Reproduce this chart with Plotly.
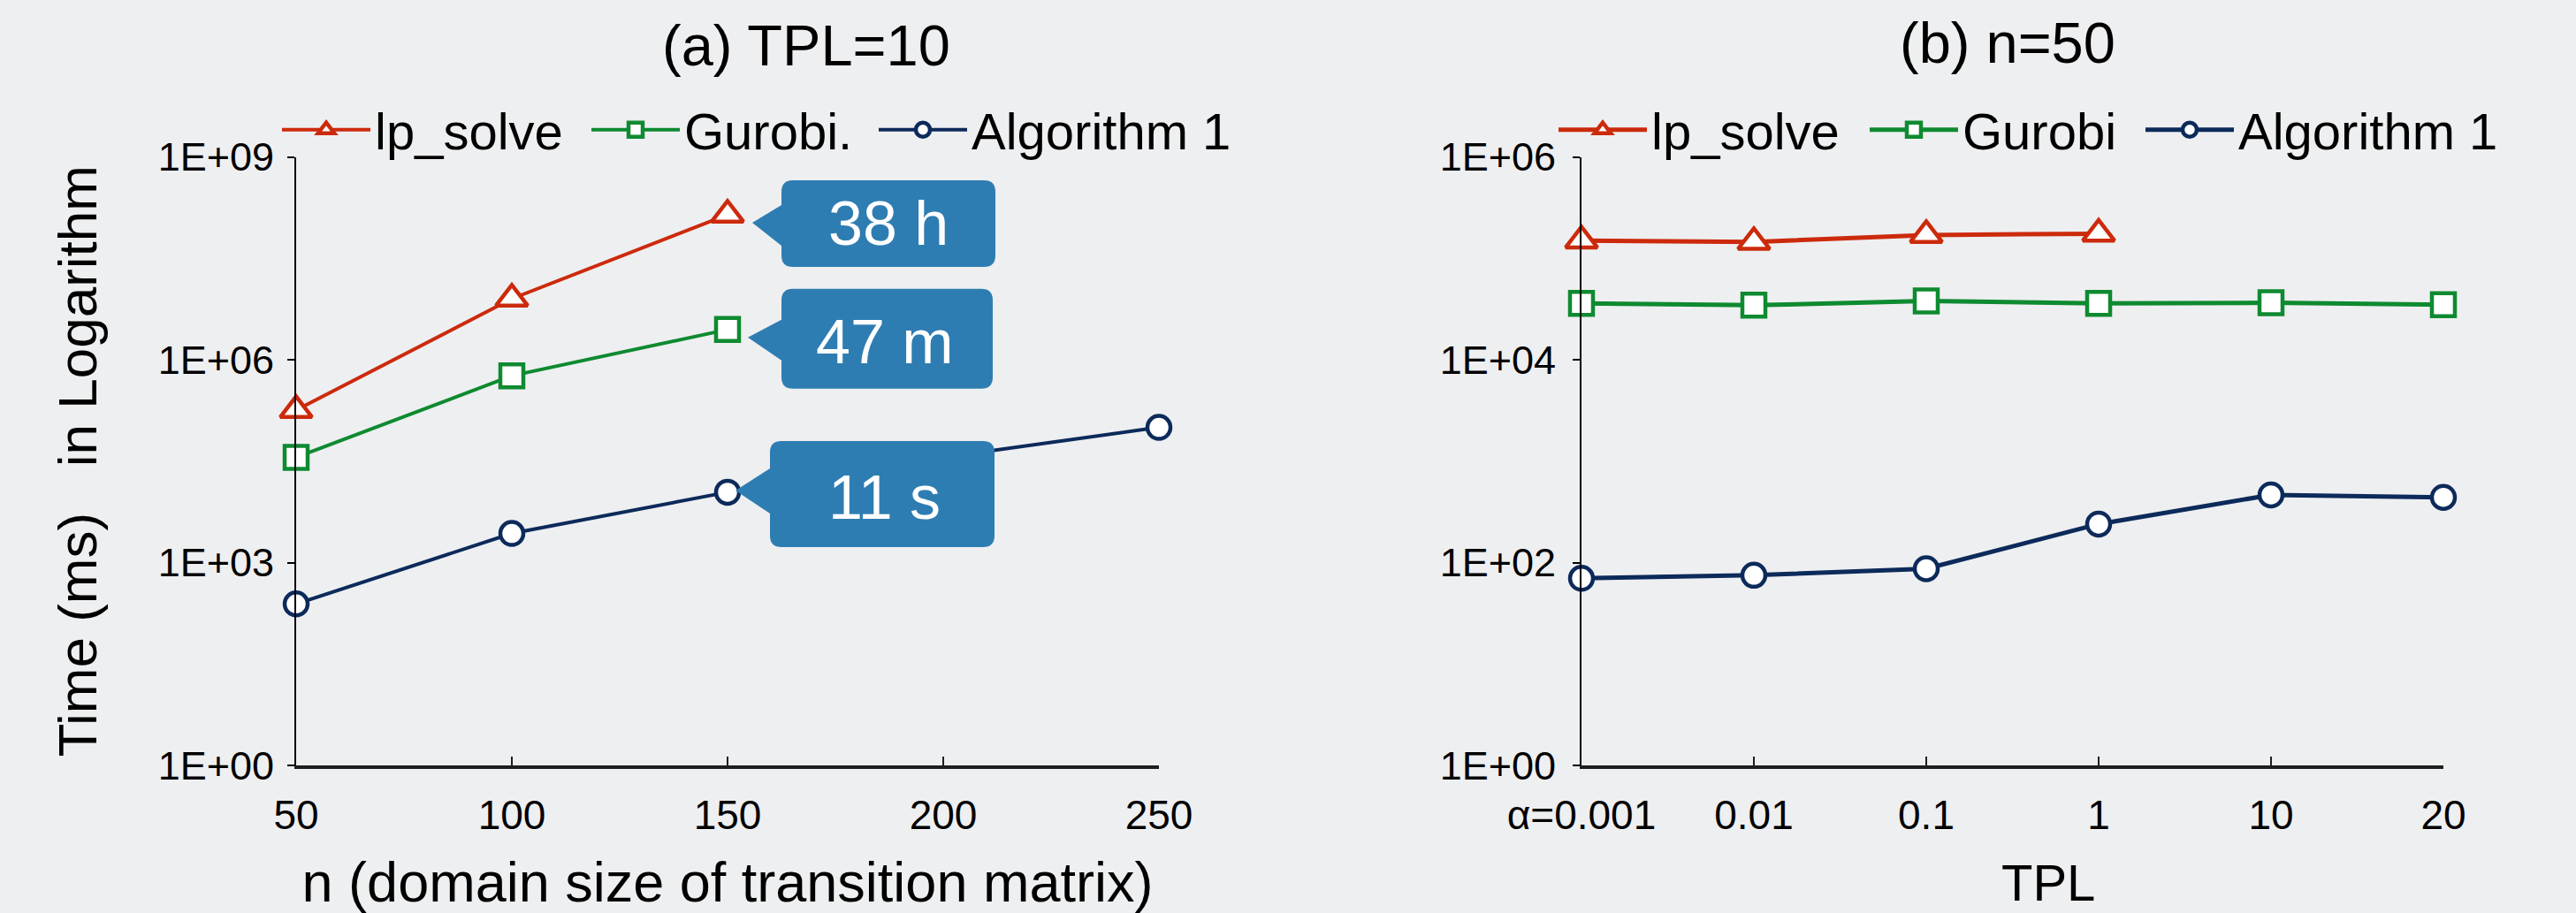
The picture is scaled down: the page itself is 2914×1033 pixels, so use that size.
import math
import plotly.graph_objects as go

# ---------------- data ----------------
n_vals = [50, 100, 150, 200, 250]
lp_a = [1.8e5, 8.0e6, 1.4e8]
gur_a = [3.6e4, 5.8e5, 2.8e6]
alg_a = [2.45e2, 2.7e3, 1.1e4, 3.6e4, 1.0e5]

tpl_cats = ["α=0.001", "0.01", "0.1", "1", "10", "20"]
lp_b = [1.5e5, 1.45e5, 1.7e5, 1.75e5]
gur_b = [3.6e4, 3.45e4, 3.8e4, 3.6e4, 3.65e4, 3.5e4]
alg_b = [70, 75, 87, 240, 465, 440]

ytick_a_vals = [1, 1e3, 1e6, 1e9]
ytick_a_text = ["1E+00", "1E+03", "1E+06", "1E+09"]
ytick_b_vals = [1, 1e2, 1e4, 1e6]
ytick_b_text = ["1E+00", "1E+02", "1E+04", "1E+06"]

names_a = ["lp_solve", "Gurobi.", "Algorithm 1"]
names_b = ["lp_solve", "Gurobi", "Algorithm 1"]
callout_labels = ["38 h", "47 m", "11 s"]

# ---------------- style ----------------
W, H = 2914, 1033
FONT = "Liberation Sans, Arial, Helvetica, sans-serif"
BG = "#eeeff1"
RED = "#cc2a0c"
GREEN = "#0e8a30"
NAVY = "#0c2a5a"
CALLOUT = "#2e7db2"

def marker(sym, col, size):
    return dict(symbol=sym, size=size, color="white", line=dict(color=col, width=4.5))

series_style = [("triangle-up", RED, 31), ("square", GREEN, 26), ("circle", NAVY, 26)]
# x pixel of each legend marker (left panel, right panel)
legend_px_a = [365, 715, 1040]
legend_px_b = [1809, 2161, 2473]
LEG_IW = 100

fig = go.Figure()

# left panel
for i, (ys, nm, (sym, col, sz)) in enumerate(zip([lp_a, gur_a, alg_a], names_a, series_style)):
    fig.add_trace(go.Scatter(
        x=n_vals[:len(ys)], y=ys, name=nm, mode="lines+markers",
        line=dict(color=col, width=4), marker=marker(sym, col, sz),
        xaxis="x", yaxis="y", legend="legend" if i == 0 else f"legend{i + 1}",
        cliponaxis=False))

# right panel
for i, (ys, nm, (sym, col, sz)) in enumerate(zip([lp_b, gur_b, alg_b], names_b, series_style)):
    fig.add_trace(go.Scatter(
        x=tpl_cats[:len(ys)], y=ys, name=nm, mode="lines+markers",
        line=dict(color=col, width=5), marker=marker(sym, col, sz),
        xaxis="x2", yaxis="y2", legend=f"legend{i + 4}", cliponaxis=False))

ydom = [(H - 866) / H, (H - 177.6) / H]
axis_font = dict(family=FONT, size=46, color="black")
yaxis_font = dict(family=FONT, size=45, color="black")
xtitle_font = dict(family=FONT, size=63, color="black")
ytitle_font = dict(family=FONT, size=62, color="black")

common_x = dict(showline=True, linecolor="#1e1e1e", linewidth=4, ticks="inside",
                ticklen=10, tickwidth=2, tickcolor="#1e1e1e", showgrid=False,
                zeroline=False, tickfont=axis_font, ticklabelstandoff=13,
                automargin=False)
common_y = dict(type="log", showline=True, linecolor="black", linewidth=2,
                ticks="outside", ticklen=8, tickwidth=2, tickcolor="black",
                showgrid=False, zeroline=False, tickfont=yaxis_font,
                automargin=False)

layout = dict(
    width=W, height=H,
    margin=dict(l=0, r=0, t=0, b=0, autoexpand=False),
    paper_bgcolor=BG, plot_bgcolor=BG,
    font=dict(family=FONT, color="black"),
    showlegend=True,
    xaxis=dict(domain=[335 / W, 1311 / W], range=[50, 250],
               tickvals=n_vals, anchor="y",
               title=dict(text="n (domain size of transition matrix)",
                          font=xtitle_font, standoff=31),
               **common_x),
    yaxis=dict(domain=ydom, range=[0, 9], tickvals=ytick_a_vals,
               ticktext=ytick_a_text, anchor="x", ticklabelstandoff=6,
               title=dict(text="Time (ms)\u00a0\u00a0\u00a0in Logarithm",
                          font=ytitle_font, standoff=49),
               **common_y),
    xaxis2=dict(domain=[1789 / W, 2764 / W], type="category",
                range=[0, len(tpl_cats) - 1], anchor="y2",
                **common_x),
    yaxis2=dict(domain=ydom, range=[0, 6], tickvals=ytick_b_vals,
                ticktext=ytick_b_text, anchor="x2", ticklabelstandoff=10,
                **common_y),
)
for k, px in enumerate(legend_px_a + legend_px_b):
    key = "legend" if k == 0 else f"legend{k + 1}"
    layout[key] = dict(orientation="h", x=(px - LEG_IW / 2 - 1) / W, xanchor="left",
                       y=1 - 147 / H, yanchor="middle",
                       font=dict(family=FONT, size=58, color="black"),
                       bgcolor="rgba(0,0,0,0)", itemwidth=LEG_IW)
fig.update_layout(**layout)

# subplot titles
fig.add_annotation(text="(a) TPL=10", xref="paper", yref="paper",
                   x=912 / W, y=1 - 52 / H, showarrow=False,
                   font=dict(family=FONT, size=65, color="black"),
                   xanchor="center", yanchor="middle")
fig.add_annotation(text="(b) n=50", xref="paper", yref="paper",
                   x=2271 / W, y=1 - 48 / H, showarrow=False,
                   font=dict(family=FONT, size=65, color="black"),
                   xanchor="center", yanchor="middle")
# x-axis title of panel (b) (sits right of the axis centre in the original)
fig.add_annotation(text="TPL", xref="paper", yref="paper",
                   x=2317 / W, y=0, showarrow=False,
                   font=dict(family=FONT, size=58, color="black"),
                   xanchor="center", yanchor="bottom")

# callouts (speech bubbles) attached to the n=150 points of the left panel
# geometry in pixels relative to the data point, y pointing down:
# (tip, box x-range, box y-range, tail base y-range, text centre)
callout_geom = [
    ((28, 9), (61, 303), (-39, 59), (-11, 35), (182, 10)),
    ((23, 9), (61, 300), (-46, 67), (-11, 35), (178, 14)),
    ((9, -2), (48, 302), (-58, 62), (-27, 24), (177, 6)),
]
anchor_vals = [lp_a[2], gur_a[2], alg_a[2]]
R = 13

def bubble_path(tip, bx, by, base):
    tx, ty = tip
    l, r = bx
    t, b = by
    pts = []
    def P(cmd, *xy):
        s = cmd
        for i in range(0, len(xy), 2):
            s += f"{xy[i]},{-xy[i + 1]} "
        pts.append(s)
    P("M", tx, ty)
    P("L", l, base[0])
    P("L", l, t + R)
    P("Q", l, t, l + R, t)
    P("L", r - R, t)
    P("Q", r, t, r, t + R)
    P("L", r, b - R)
    P("Q", r, b, r - R, b)
    P("L", l + R, b)
    P("Q", l, b, l, b - R)
    P("L", l, base[1])
    return "".join(pts) + "Z"

for lab, val, (tip, bx, by, base, tc) in zip(callout_labels, anchor_vals, callout_geom):
    fig.add_shape(type="path", xref="x", yref="y",
                  xsizemode="pixel", ysizemode="pixel",
                  xanchor=n_vals[2], yanchor=val,
                  path=bubble_path(tip, bx, by, base),
                  fillcolor=CALLOUT, line=dict(width=0), layer="above")
    fig.add_annotation(text=lab, xref="x", yref="y", x=n_vals[2],
                       y=math.log10(val), xshift=tc[0], yshift=-tc[1],
                       showarrow=False,
                       font=dict(family=FONT, size=70, color="white"),
                       xanchor="center", yanchor="middle")

fig.write_html("out.html",
               config={"displayModeBar": False},
               post_script="document.body.style.margin='0';"
                           "document.body.style.background='#eeeff1';")
